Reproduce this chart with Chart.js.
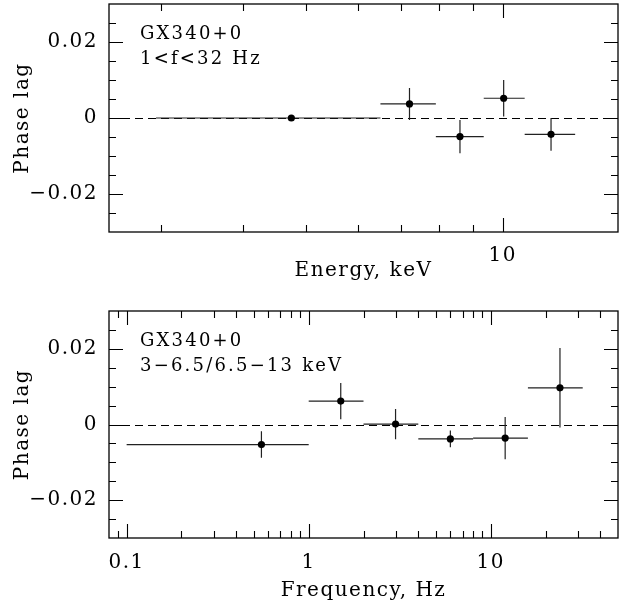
<!DOCTYPE html>
<html>
<head>
<meta charset="utf-8">
<script src="https://cdn.jsdelivr.net/npm/chart.js@4.4.1/dist/chart.umd.min.js"></script>
<style>
  html, body { margin: 0; padding: 0; background: #fff; }
  #wrap { position: relative; width: 628px; height: 602px; }
  canvas { position: absolute; left: 0; }
  #energyChart { top: 0; }
  #freqChart { top: 300px; }
</style>
</head>
<body>
<div id="wrap">
  <canvas id="energyChart" width="628" height="300"></canvas>
  <canvas id="freqChart" width="628" height="302"></canvas>
</div>
<script>
// Phase lag against energy, 1<f<32 Hz
const energyMid = [4.75, 7.2, 8.6, 10.03, 11.85];
const energyLo = [2.95, 6.5, 7.9, 9.35, 10.8];
const energyHi = [6.5, 7.9, 9.35, 10.8, 12.9];
const energyLag = [0, 0.0037, -0.0049, 0.0052, -0.0043];
const energyLagErr = [0, 0.0042, 0.0044, 0.0048, 0.0043];

// Phase lag against frequency, 3-6.5 keV vs 6.5-13 keV
const freqMid = [0.55, 1.5, 3.0, 6.0, 12.0, 24.0];
const freqLo = [0.1, 1, 2, 4, 8, 16];
const freqHi = [1, 2, 4, 8, 16, 32];
const freqLag = [-0.0053, 0.0062, 0.0001, -0.0038, -0.0036, 0.0097];
const freqLagErr = [0.0035, 0.0048, 0.0040, 0.0022, 0.0056, 0.0105];

// labelled ticks
const lagTicks = [-0.02, 0, 0.02];
const lagTickLabels = ['\u22120.02', '0', '0.02'];
const energyTicks = [10];
const energyTickLabels = ['10'];
const freqTicks = [0.1, 1, 10];
const freqTickLabels = ['0.1', '1', '10'];

const FONT = "'DejaVu Serif', serif";
Chart.defaults.font.family = FONT;
Chart.defaults.color = '#000';

// log axis tick positions: 1..9 x 10^n inside [min, max]
function logTickValues(min, max) {
    const out = [];
    for (let d = Math.floor(Math.log10(min)); d <= Math.ceil(Math.log10(max)); d++) {
        for (let k = 1; k <= 9; k++) {
            const v = k * Math.pow(10, d);
            if (v > min * 1.001 && v < max * 0.999) out.push({ v, major: k === 1 });
        }
    }
    return out;
}

// frame, inward tick marks, zero line, error bars and notes
const framePlugin = {
    id: 'frame',
    beforeDraw(chart) {
        chart.ctx.letterSpacing = '1.5px';
    },
    beforeDatasetsDraw(chart, args, opts) {
        const { ctx, chartArea: a, scales: { x, y } } = chart;
        ctx.save();
        ctx.strokeStyle = '#000';
        ctx.lineWidth = 1;
        ctx.setLineDash([8, 5]);
        const y0 = Math.round(y.getPixelForValue(0)) + 0.5;
        ctx.beginPath();
        ctx.moveTo(a.left, y0);
        ctx.lineTo(a.right, y0);
        ctx.stroke();
        ctx.setLineDash([]);

        ctx.strokeStyle = '#222';
        ctx.lineWidth = 1.2;
        opts.mid.forEach((m, i) => {
            const py = y.getPixelForValue(opts.lag[i]);
            const px = x.getPixelForValue(m);
            ctx.beginPath();
            ctx.moveTo(x.getPixelForValue(opts.lo[i]), py);
            ctx.lineTo(x.getPixelForValue(opts.hi[i]), py);
            if (opts.err[i] > 0) {
                ctx.moveTo(px, y.getPixelForValue(opts.lag[i] + opts.err[i]));
                ctx.lineTo(px, y.getPixelForValue(opts.lag[i] - opts.err[i]));
            }
            ctx.stroke();
        });
        ctx.restore();
    },
    afterDraw(chart, args, opts) {
        const { ctx, chartArea: a, scales: { x, y } } = chart;
        ctx.save();
        ctx.strokeStyle = '#000';
        ctx.lineWidth = 1.3;
        ctx.strokeRect(a.left, a.top, a.right - a.left, a.bottom - a.top);

        ctx.lineWidth = 1.1;
        ctx.beginPath();
        logTickValues(x.min, x.max).forEach(t => {
            const px = Math.round(x.getPixelForValue(t.v)) + 0.5;
            const len = t.major ? 14 : 7;
            ctx.moveTo(px, a.bottom); ctx.lineTo(px, a.bottom - len);
            ctx.moveTo(px, a.top); ctx.lineTo(px, a.top + len);
        });
        for (let i = -5; i <= 5; i++) {
            const py = Math.round(y.getPixelForValue(i * 0.005)) + 0.5;
            const len = i % 4 === 0 ? 14 : 7;
            ctx.moveTo(a.left, py); ctx.lineTo(a.left + len, py);
            ctx.moveTo(a.right, py); ctx.lineTo(a.right - len, py);
        }
        ctx.stroke();

        ctx.fillStyle = '#000';
        ctx.font = '18px ' + FONT;
        ctx.letterSpacing = '2.2px';
        ctx.textAlign = 'left';
        ctx.textBaseline = 'alphabetic';
        opts.notes.forEach((t, i) => {
            ctx.fillText(t, a.left + 31, a.top + 35 + i * 25);
        });
        ctx.restore();
    }
};

function makeChart(id, cfg) {
    return new Chart(document.getElementById(id), {
        type: 'scatter',
        data: {
            datasets: [{
                data: cfg.mid.map((m, i) => ({ x: m, y: cfg.lag[i] })),
                pointRadius: 3.6,
                pointHoverRadius: 3.6,
                pointBackgroundColor: '#000',
                pointBorderWidth: 0
            }]
        },
        options: {
            responsive: false,
            animation: false,
            devicePixelRatio: 1,
            layout: { padding: { top: cfg.padTop, right: 10, left: 0, bottom: 0 } },
            plugins: {
                legend: { display: false },
                tooltip: { enabled: false },
                frame: { mid: cfg.mid, lo: cfg.lo, hi: cfg.hi, lag: cfg.lag, err: cfg.err, notes: cfg.notes }
            },
            scales: {
                x: {
                    type: 'logarithmic',
                    min: cfg.xMin,
                    max: cfg.xMax,
                    grid: { display: false, drawTicks: false },
                    border: { display: false },
                    afterBuildTicks: s => { s.ticks = cfg.xTicks.map(v => ({ value: v })); },
                    afterFit: s => {
                        s.height = cfg.xAxisHeight;
                        s.paddingLeft = 0;
                        s.paddingRight = 0;
                    },
                    ticks: {
                        autoSkip: false,
                        maxRotation: 0,
                        padding: cfg.xTickPad,
                        font: { size: 20 },
                        callback: (v, i) => cfg.xTickLabels[i]
                    },
                    title: {
                        display: true,
                        text: cfg.xTitle,
                        font: { size: 20, lineHeight: 1 },
                        padding: { top: 0, bottom: cfg.xTitlePad }
                    }
                },
                y: {
                    min: -0.03,
                    max: 0.03,
                    grid: { display: false, drawTicks: false },
                    border: { display: false },
                    afterBuildTicks: s => { s.ticks = lagTicks.map(v => ({ value: v })); },
                    afterFit: s => {
                        s.width = 109;
                        s.paddingTop = 0;
                        s.paddingBottom = 0;
                    },
                    ticks: {
                        padding: 11,
                        font: { size: 20 },
                        callback: (v, i) => lagTickLabels[i]
                    },
                    title: {
                        display: true,
                        text: 'Phase lag',
                        font: { size: 20, lineHeight: 1 },
                        padding: { top: 13, bottom: 0 }
                    }
                }
            }
        },
        plugins: [framePlugin]
    });
}

makeChart('energyChart', {
    mid: energyMid, lo: energyLo, hi: energyHi, lag: energyLag, err: energyLagErr,
    xMin: 2.5, xMax: 15,
    xTicks: energyTicks, xTickLabels: energyTickLabels,
    xTitle: 'Energy, keV',
    notes: ['GX340+0', '1<f<32 Hz'],
    padTop: 4, xAxisHeight: 68, xTickPad: 12, xTitlePad: 19
});

makeChart('freqChart', {
    mid: freqMid, lo: freqLo, hi: freqHi, lag: freqLag, err: freqLagErr,
    xMin: 0.08, xMax: 50,
    xTicks: freqTicks, xTickLabels: freqTickLabels,
    xTitle: 'Frequency, Hz',
    notes: ['GX340+0', '3\u22126.5/6.5\u221213 keV'],
    padTop: 11, xAxisHeight: 64, xTickPad: 13, xTitlePad: 1
});
</script>
</body>
</html>
